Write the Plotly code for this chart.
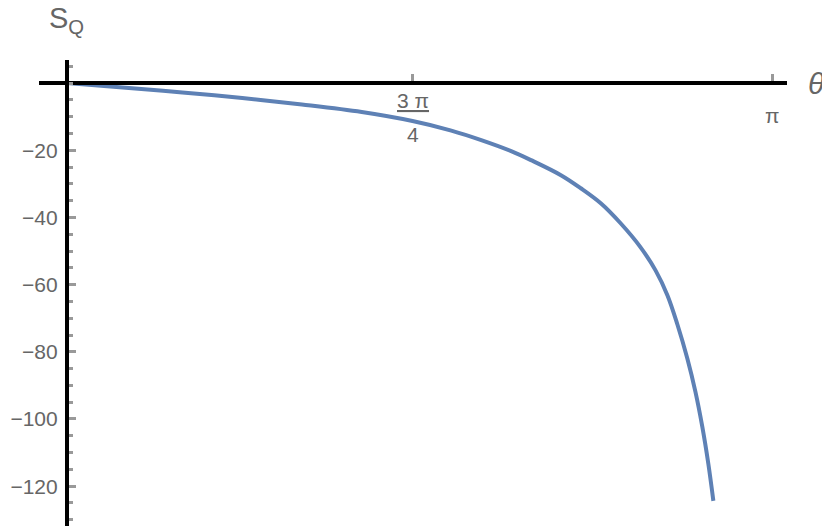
import math
import plotly.graph_objects as go

# ---- data (theta in units of pi, S_Q values) ----
theta_over_pi = [0.5097, 0.5485, 0.5900, 0.6316, 0.6731, 0.7147, 0.7500, 0.7770,
                 0.7978, 0.8186, 0.8324, 0.8532, 0.8670, 0.8809, 0.8947, 0.9086,
                 0.9190, 0.9273, 0.9342, 0.9411, 0.9467, 0.9515, 0.9557, 0.9592]
s_q = [0.0, -1.34, -2.83, -4.47, -6.41, -8.65, -11.33, -14.17,
       -17.00, -20.28, -22.96, -27.44, -31.32, -35.79, -41.75, -48.91,
       -55.77, -63.23, -71.88, -82.02, -91.86, -102.30, -113.33, -124.37]

x_tick_over_pi = [0.75, 1.0]
x_tick_numer = ["3 π", "π"]
x_tick_denom = ["4", ""]

y_tick_vals = [-120, -100, -80, -60, -40, -20]
y_tick_text = ["−120", "−100", "−80", "−60", "−40", "−20"]

PI = math.pi
theta = [t * PI for t in theta_over_pi]

x_range = [0.4903 * PI, 1.0104 * PI]
y_range = [-131.85, 6.85]
x_cross = theta_over_pi[0] * PI

pos_x_axis = (0 - y_range[0]) / (y_range[1] - y_range[0])
pos_y_axis = (x_cross - x_range[0]) / (x_range[1] - x_range[0])

FONT = "Liberation Sans, Arial, sans-serif"
LABEL_COLOR = "#666666"
TICK_COLOR = "#999999"

fig = go.Figure()
fig.add_trace(go.Scatter(x=theta, y=s_q, mode="lines",
                         line=dict(color="#5E81B5", width=4, shape="spline", smoothing=1.0),
                         hoverinfo="skip"))

fig.update_layout(
    width=822, height=520,
    margin=dict(l=28, r=43, t=52, b=2),
    plot_bgcolor="white", paper_bgcolor="white",
    showlegend=False,
    font=dict(family=FONT, color=LABEL_COLOR),
    xaxis=dict(range=x_range, showgrid=False, zeroline=False,
               showline=True, linecolor="black", linewidth=4,
               anchor="free", position=pos_x_axis, side="bottom",
               ticks="inside", ticklen=7, tickwidth=3, tickcolor=TICK_COLOR,
               tickmode="array", tickvals=[t * PI for t in x_tick_over_pi],
               showticklabels=False),
    yaxis=dict(range=y_range, showgrid=False, zeroline=False,
               showline=True, linecolor="black", linewidth=4,
               anchor="free", position=pos_y_axis, side="left",
               ticks="inside", ticklen=7, tickwidth=3, tickcolor=TICK_COLOR,
               tickmode="array", tickvals=y_tick_vals, ticktext=y_tick_text,
               ticklabelstandoff=3,
               tickfont=dict(size=21, color=LABEL_COLOR, family=FONT),
               minor=dict(dtick=5, tick0=0, ticks="inside", ticklen=4,
                          tickwidth=3, tickcolor=TICK_COLOR, showgrid=False)),
)

annotations = []
for tv, num, den in zip(x_tick_over_pi, x_tick_numer, x_tick_denom):
    if den:
        annotations.append(dict(x=tv * PI, y=0, xref="x", yref="y",
                                text="<u>" + num + "</u>", showarrow=False,
                                yanchor="middle", xanchor="center", yshift=-17,
                                font=dict(size=21, color=LABEL_COLOR, family=FONT)))
        annotations.append(dict(x=tv * PI, y=0, xref="x", yref="y",
                                text=den, showarrow=False,
                                yanchor="middle", xanchor="center", yshift=-51,
                                font=dict(size=21, color=LABEL_COLOR, family=FONT)))
    else:
        annotations.append(dict(x=tv * PI, y=0, xref="x", yref="y",
                                text=num, showarrow=False,
                                yanchor="middle", xanchor="center", yshift=-32,
                                font=dict(size=21, color=LABEL_COLOR, family=FONT)))

annotations.append(dict(x=x_cross, y=1, xref="x", yref="paper",
                        text="S<sub>Q</sub>", showarrow=False,
                        xanchor="center", yanchor="bottom", yshift=20,
                        font=dict(size=29, color=LABEL_COLOR, family=FONT)))
annotations.append(dict(x=1, y=0, xref="paper", yref="y",
                        text="<i>θ</i>", showarrow=False,
                        xanchor="left", yanchor="middle", xshift=19,
                        font=dict(size=30, color=LABEL_COLOR, family=FONT)))
fig.update_layout(annotations=annotations)

fig.write_html("out.html")
